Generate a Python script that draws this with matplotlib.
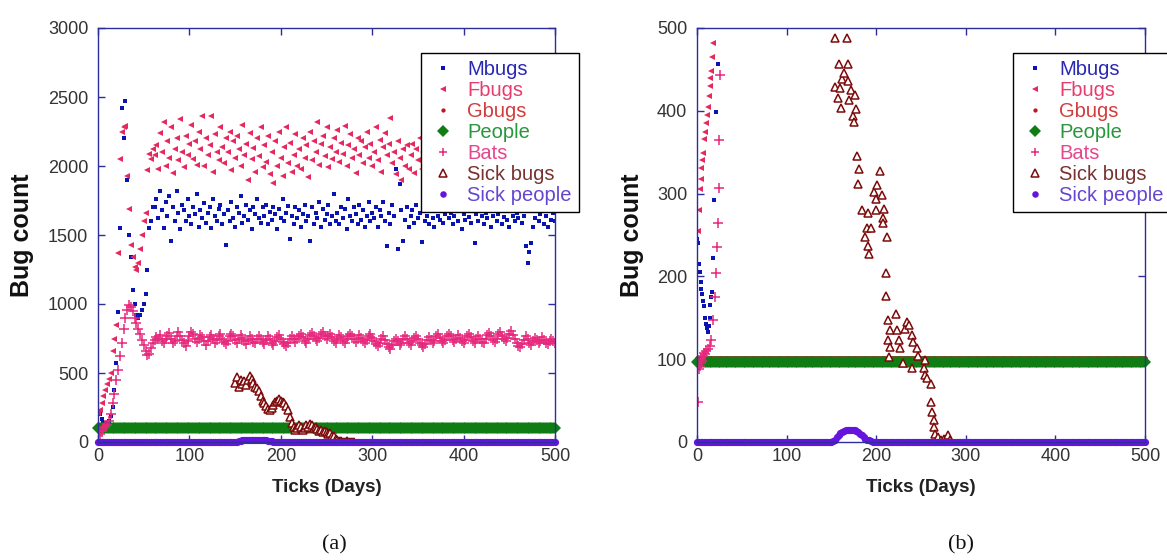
import matplotlib
matplotlib.use("Agg")
import matplotlib.pyplot as plt

plt.rcParams['font.family'] = ['Liberation Sans', 'DejaVu Sans']

# ---------------- Panel (a) data (ticks every 2 days) ----------------
mbugs_a = [
    200, 205, 170, 140, 135, 140, 150, 190, 256, 380, 570, 940, 1550, 2420, 2200, 2470,
    1900, 1500, 1340, 1100, 1000, 920, 900, 920, 960, 1000, 1070, 1250, 1550, 1600, 1700,
    1700, 1760, 1620, 1820, 1680, 1550, 1740, 1640, 1780, 1460, 1700, 1600, 1820, 1660, 1540, 1720, 1680, 1600, 1760, 1640,
    1580, 1700, 1650, 1800, 1560, 1680, 1620, 1730, 1590, 1660, 1700, 1550, 1760, 1640, 1600, 1690, 1720, 1580, 1650, 1430,
    1680, 1600, 1740, 1620, 1560, 1700, 1660, 1780, 1590, 1640, 1720, 1610, 1680, 1540, 1700, 1650, 1760, 1620, 1590, 1700,
    1640, 1720, 1580, 1670, 1610, 1700, 1650, 1540, 1690, 1620, 1760, 1600, 1660, 1710, 1470, 1640, 1580, 1700, 1620, 1680,
    1560, 1650, 1720, 1600, 1640, 1460, 1700, 1580, 1660, 1620, 1740, 1560, 1690, 1610, 1650, 1720, 1580, 1640, 1800, 1600,
    1660, 1580, 1700, 1620, 1690, 1540, 1760, 1640, 1600, 1700, 1650, 1580, 1720, 1610, 1680, 1560, 1640, 1740, 1600, 1660,
    1620, 1700, 1560, 1680, 1640, 1740, 1600, 1420, 1660, 1580, 1720, 1640, 1980, 1400, 1870, 1680, 1460, 1610, 1700, 1560,
    1640, 1680, 1590, 1720, 1620, 1660, 1450, 1700, 1600, 1640, 1580, 1690, 1620, 1560, 1700, 1640, 1610, 1680, 1590, 1650,
    1700, 1620, 1660, 1580, 1640, 1720, 1600, 1680, 1540, 1650, 1610, 1700, 1630, 1590, 1680, 1440, 1650, 1600, 1720, 1640,
    1580, 1660, 1620, 1700, 1560, 1640, 1690, 1600, 1650, 1720, 1580, 1630, 1680, 1610, 1560, 1700, 1640, 1600, 1660, 1620,
    1680, 1590, 1640, 1420, 1300, 1380, 1440, 1560, 1620, 1680, 1600, 1650, 1700, 1580, 1640, 1560, 1680, 1610, 1660, 1600,
]
fbugs_a = [
    210, 230, 280, 330, 380, 420, 460, 500, 660, 750, 850, 1370, 2050, 2250, 2280, 2290,
    1930, 1690, 1430, 1340, 1270, 1250, 1300, 1400, 1500, 1600, 1660, 1970, 2090, 2050, 2120,
    2080, 2150, 1980, 2240, 2100, 2320, 2000, 2180, 2060, 2280, 1950, 2120, 2200, 2040, 2340, 2100, 1990, 2220, 2080, 2160,
    2300, 2050, 2180, 2010, 2250, 2120, 2360, 2000, 2200, 2080, 2150, 2360, 1960, 2230, 2100, 2040, 2280, 2140, 2020, 2200,
    2100, 2250, 1970, 2180, 2060, 2220, 2120, 2000, 2300, 2080, 2160, 1900, 2240, 2050, 2130, 1960, 2200, 2070, 2280, 1990,
    2150, 2030, 2220, 1940, 2100, 1880, 2180, 2000, 2250, 2060, 1930, 2140, 2280, 2020, 2170, 1960, 2080, 2230, 2000, 2120,
    1980, 2200, 2060, 2150, 1920, 2250, 2040, 2180, 2100, 2320, 2010, 2160, 2220, 2070, 2280, 1990, 2140, 2050, 2200, 2100,
    2260, 2030, 2170, 2090, 2290, 2000, 2150, 2230, 2060, 2120, 1950, 2200, 2080, 2180, 2020, 2140, 2250, 2060, 2160, 2000,
    2100, 2280, 2040, 2190, 1960, 2140, 2240, 2080, 2160, 2350, 2020, 2100, 1940, 2180, 2060, 1900, 2120, 2000, 2150, 1980,
    2080, 2160, 1950, 2120, 2040, 2200, 1980, 2100, 2060, 2180, 1920, 2140, 2020, 2200, 2080, 1960, 2120, 2040, 2180, 2000,
    2100, 1980, 2150, 2060, 2220, 1940, 2120, 2040, 2180, 2000, 2100, 1960, 2140, 2060, 2200, 1980, 2080, 2160, 2020, 2120,
    2000, 2180, 2060, 2120, 1950, 2100, 2200, 2040, 2140, 1980, 2080, 2160, 2020, 2120, 1940, 2100, 2050, 2180, 2000, 2140,
    2060, 2120, 1980, 2180, 2040, 2100, 1960, 2150, 2080, 2000, 2140, 2060, 2200, 1990, 2120, 2040, 2160, 2000, 2100, 2060,
]
bats_a = [
    40, 60, 80, 100, 110, 120, 150, 200, 280, 350, 450, 520, 620, 720, 820, 900,
    960, 990, 980, 950, 900, 860, 820, 780, 740, 700, 660, 630, 640, 680, 720,
    740, 760, 750, 775, 730, 715, 745, 765, 790, 750, 715, 735, 765, 800, 770, 740, 715, 695, 730, 765,
    795, 780, 750, 725, 745, 775, 760, 735, 705, 730, 760, 775, 745, 720, 740, 765, 780, 750, 725, 710,
    735, 765, 785, 765, 740, 720, 745, 775, 755, 730, 710, 740, 765, 745, 725, 715, 745, 770, 750, 725,
    710, 740, 765, 745, 720, 705, 730, 760, 775, 750, 725, 710, 695, 720, 750, 770, 750, 725, 745, 765,
    780, 760, 735, 720, 745, 775, 790, 770, 750, 730, 755, 780, 795, 770, 750, 765, 785, 760, 735, 720,
    745, 775, 760, 735, 720, 745, 765, 785, 765, 745, 725, 750, 775, 755, 730, 715, 740, 765, 780, 755,
    730, 710, 695, 720, 750, 765, 740, 710, 690, 675, 700, 730, 750, 730, 705, 720, 745, 765, 745, 720,
    705, 730, 755, 770, 745, 720, 700, 685, 710, 740, 760, 740, 715, 735, 765, 780, 755, 730, 715, 740,
    765, 785, 765, 740, 725, 750, 775, 755, 730, 715, 740, 770, 785, 760, 735, 720, 745, 770, 750, 725,
    715, 745, 775, 790, 765, 740, 725, 750, 780, 795, 770, 745, 730, 755, 785, 805, 775, 745, 720, 695,
    685, 710, 740, 765, 745, 720, 705, 730, 755, 740, 715, 735, 760, 740, 720, 710, 730, 750, 735, 715,
]
people_a_level = 100
gbugs_a_level = 100
sick_bugs_a_start = 150
sick_bugs_a = [
    430, 470, 400, 450, 420, 440, 410, 450, 480, 460, 430, 400, 390, 370, 330, 300,
    280, 260, 240, 230, 250, 270, 290, 300, 310, 300, 290, 280, 260, 230, 180, 140,
    110, 90, 100, 120, 110, 90, 100, 120, 110, 130, 120, 100, 110, 95, 80, 90,
    75, 80, 70, 60, 65, 45, 40, 25, 15, 10, 5, 0, 0, 5, 0, 0, 0, 0,
]
sick_people_a_bump_start = 150
sick_people_a_bump = [0, 2, 5, 8, 11, 13, 15, 16, 17, 17, 18, 18, 17, 17, 16, 15,
                      13, 11, 9, 7, 5, 3, 2, 1, 0, 0]

# ---------------- Panel (b) data ----------------
mbugs_b_t = [0, 1, 2, 3, 4, 5, 6, 7, 8, 9, 10, 11, 12, 13, 14, 15, 16, 17, 18, 19, 21, 23]
mbugs_b = [245, 240, 215, 205, 193, 185, 179, 170, 164, 150, 143, 138, 133, 140, 150, 166,
           175, 181, 222, 292, 398, 456]
fbugs_b_t = [0, 1, 2, 3, 4, 5, 6, 7, 8, 9, 10, 11, 12, 13, 14, 15, 16, 17, 18]
fbugs_b = [95, 255, 280, 306, 318, 331, 340, 349, 366, 375, 385, 395, 404, 418, 430, 440,
           448, 465, 482]
bats_b_t = [1, 2, 3, 4, 5, 6, 7, 8, 9, 10, 12, 14, 16, 18, 20, 21, 22, 23, 24, 25, 26]
bats_b = [48, 88, 92, 95, 100, 98, 104, 108, 106, 110, 112, 116, 123, 147, 175, 204, 235,
          264, 307, 365, 443]
people_b_level = 97
gbugs_b_level = 101
sick_bugs_b_t = [154, 154, 157, 158, 160, 161, 162, 164, 167, 168, 168, 170, 172, 174, 175,
                 176, 177, 179, 180, 181, 184, 187, 190, 191, 191, 192, 194, 198, 200, 200,
                 201, 204, 206, 208, 208, 209, 211, 211, 212, 213, 213, 214, 215, 215, 222,
                 223, 226, 227, 230, 232, 234, 237, 240, 240, 241, 245, 247, 253, 255, 255,
                 257, 261, 261, 262, 264, 265, 266, 269, 272, 276, 280, 282]
sick_bugs_b = [488, 429, 416, 456, 428, 403, 438, 446, 488, 457, 436, 413, 425, 394, 386,
               419, 402, 345, 312, 330, 280, 248, 259, 276, 237, 227, 259, 302, 293, 280,
               310, 327, 298, 271, 265, 281, 204, 176, 247, 147, 123, 103, 135, 115, 155,
               135, 123, 113, 95, 137, 145, 141, 129, 89, 121, 113, 104, 89, 99, 81,
               77, 70, 48, 36, 27, 18, 10, 6, 3, 4, 8, 3]
sick_people_b_bump_start = 150
sick_people_b_bump = [0, 1, 3, 6, 9, 11, 12, 13, 14, 14, 14, 15, 14, 14, 13, 12,
                      10, 8, 6, 4, 3, 2, 1, 0, 0, 0]

labels = ["Mbugs", "Fbugs", "Gbugs", "People", "Bats", "Sick bugs", "Sick people"]

# ---------------- styles ----------------
C_M = "#0a14b4"
C_F = "#e6285f"
C_G = "#c0141e"
C_P = "#0f7d14"
C_B = "#e6287d"
C_SB = "#7d0a0a"
C_SP = "#6414dc"
TXT = ["#2828b4", "#e63c6e", "#d23c3c", "#28963c", "#e6468c", "#783232", "#6446d2"]
SPINE = "#2d2d9b"

W, H = 1167, 560
fig = plt.figure(figsize=(W / 100, H / 100), dpi=100)


def build_axes(rect):
    ax = fig.add_axes(rect)
    for s in ax.spines.values():
        s.set_color(SPINE)
        s.set_linewidth(1.0)
    ax.tick_params(direction="in", length=5, width=1, color=SPINE,
                   labelcolor="#333333", labelsize=13, top=True, right=True)
    ax.tick_params(axis="x", pad=4)
    ax.tick_params(axis="y", pad=7)
    return ax


def draw_panel(ax, grid, m_t, m, f_t, f, b_t, b, g_level, p_level, sb_t, sb, sp):
    h = []
    h += ax.plot(m_t, m, ls="none", marker="s", ms=3.4, color=C_M, mew=0)
    h += ax.plot(f_t, f, ls="none", marker="<", ms=4.3, color=C_F, mew=0)
    h += ax.plot(grid, [g_level] * len(grid), ls="none", marker="o", ms=3.4, color=C_G,
                 mew=0, clip_on=False)
    h += ax.plot(grid, [p_level] * len(grid), ls="none", marker="D", ms=6.5, color=C_P,
                 mew=0, clip_on=False)
    h += ax.plot(b_t, b, ls="none", marker="+", ms=6.5, color=C_B, mew=1.1)
    h += ax.plot(sb_t, sb, ls="none", marker="^", ms=6.0, mfc="white", mec=C_SB, mew=1.1)
    h += ax.plot(grid, sp, ls="none", marker="o", ms=5.2, color=C_SP, mew=0, clip_on=False)
    return h


grid = list(range(0, 501, 2))

# ----- panel (a)
ax1 = build_axes([98 / W, 1 - 442 / H, 457 / W, 414 / H])
t_a = list(range(0, 2 * len(mbugs_a), 2))
tf_a = list(range(0, 2 * len(fbugs_a), 2))
tb_a = list(range(0, 2 * len(bats_a), 2))
tsb_a = list(range(sick_bugs_a_start, sick_bugs_a_start + 2 * len(sick_bugs_a), 2))
i0 = sick_people_a_bump_start // 2
sp_a = [0] * i0 + sick_people_a_bump + [0] * (len(grid) - i0 - len(sick_people_a_bump))
h1 = draw_panel(ax1, grid, t_a, mbugs_a, tf_a, fbugs_a, tb_a, bats_a, gbugs_a_level,
                people_a_level, tsb_a, sick_bugs_a, sp_a)
ax1.set_xlim(0, 500)
ax1.set_ylim(0, 3000)
ax1.set_xticks([0, 100, 200, 300, 400, 500])
ax1.set_yticks([0, 500, 1000, 1500, 2000, 2500, 3000])

# ----- panel (b)
ax2 = build_axes([697 / W, 1 - 442 / H, 448 / W, 414 / H])
j0 = sick_people_b_bump_start // 2
sp_b = [0] * j0 + sick_people_b_bump + [0] * (len(grid) - j0 - len(sick_people_b_bump))
h2 = draw_panel(ax2, grid, mbugs_b_t, mbugs_b, fbugs_b_t, fbugs_b, bats_b_t, bats_b,
                gbugs_b_level, people_b_level, sick_bugs_b_t, sick_bugs_b, sp_b)
ax2.set_xlim(0, 500)
ax2.set_ylim(0, 500)
ax2.set_xticks([0, 100, 200, 300, 400, 500])
ax2.set_yticks([0, 100, 200, 300, 400, 500])

# ----- legends
for ax, h, x0 in ((ax1, h1, 421), (ax2, h2, 1013)):
    leg = fig.legend(h, labels, loc="upper left", bbox_to_anchor=(x0 / W, 1 - 53 / H),
                     bbox_transform=fig.transFigure, fontsize=14.5, frameon=True,
                     fancybox=False, edgecolor="black", framealpha=1.0,
                     handlelength=1.5, handletextpad=0.45, labelspacing=0.1,
                     borderpad=0.35, borderaxespad=0, markerscale=0.9)
    leg.get_frame().set_linewidth(1.0)
    for t, c in zip(leg.get_texts(), TXT):
        t.set_color(c)

# ----- axis labels
for cx, lx in ((98 + 457 / 2, 22), (697 + 448 / 2, 632)):
    fig.text(cx / W, 1 - 488 / H, "Ticks (Days)", ha="center", va="center",
             fontsize=13.5, fontweight="bold", color="#222222")
    fig.text(lx / W, 1 - 235 / H, "Bug count", ha="center", va="center", rotation=90,
             fontsize=18, fontweight="bold", color="#111111")

fig.text(334 / W, 1 - 545 / H, "(a)", ha="center", va="center", fontsize=16,
         family="Liberation Serif", color="#111111")
fig.text(961 / W, 1 - 545 / H, "(b)", ha="center", va="center", fontsize=16,
         family="Liberation Serif", color="#111111")

fig.savefig("out.png", dpi=100, facecolor="white")
